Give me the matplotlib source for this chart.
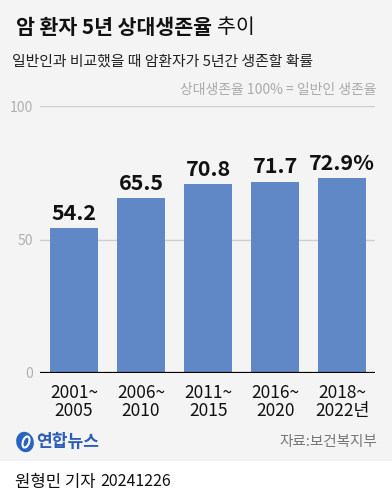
import matplotlib
matplotlib.use("Agg")
import matplotlib.pyplot as plt
from matplotlib.patches import Rectangle, Ellipse

plt.rcParams['font.family'] = ['Noto Sans CJK KR', 'DejaVu Sans']

periods = ["2001~\n2005", "2006~\n2010", "2011~\n2015", "2016~\n2020", "2018~\n2022년"]
values = [54.2, 65.5, 70.8, 71.7, 72.9]
value_labels = ["54.2", "65.5", "70.8", "71.7", "72.9%"]
yticks = [0, 50, 100]

W, H = 392, 500
fig = plt.figure(figsize=(W / 100, H / 100), dpi=100)
fig.patch.set_facecolor("white")

def fx(px):
    return px / W

def fy(py):
    return 1 - py / H

# gray background panel
fig.patches.append(Rectangle((0, fy(461)), 1, 1 - fy(461), transform=fig.transFigure,
                             facecolor="#f4f4f4", edgecolor="none", zorder=-10))

ax = fig.add_axes([fx(40), fy(373), fx(375) - fx(40), fy(106) - fy(373)])
ax.set_facecolor("none")
x = list(range(len(values)))
ax.bar(x, values, width=0.716, color="#6088c6", zorder=3)
ax.set_ylim(0, 100)
ax.set_xlim(-0.507, 4.49)
for s in ax.spines.values():
    s.set_visible(False)
ax.axhline(0, color="black", lw=1.6, zorder=4)
for t in yticks[1:]:
    ax.axhline(t, color="#cfcfcf", lw=1.0, zorder=1)
ax.set_yticks(yticks)
ax.set_yticklabels([str(t) for t in yticks], color="#b0b0b0", fontsize=10)
ax.tick_params(axis="y", length=0, pad=5)
ax.set_xticks(x)
ax.set_xticklabels(periods, fontsize=12.5, color="#111111", linespacing=1.0,
                   fontweight="light")
ax.tick_params(axis="x", length=0, pad=8)

for xi, v, lab in zip(x, values, value_labels):
    ax.annotate(lab, (xi, v), xytext=(0, 3), textcoords="offset points",
                ha="center", va="bottom", fontsize=15.5, fontweight="bold", color="#111111")

# title
t1 = fig.text(fx(16), fy(27), "암 환자 5년 상대생존율", fontsize=14.8, fontweight="heavy",
              color="#111111", va="center", ha="left")
fig.canvas.draw()
bb = t1.get_window_extent()
fig.text(bb.x1 / W + fx(5), fy(27), "추이", fontsize=14.8, fontweight="light",
         color="#111111", va="center", ha="left")

fig.text(fx(12), fy(62), "일반인과 비교했을 때 암환자가 5년간 생존할 확률", fontsize=10.7,
         color="#222222", va="center", ha="left")
fig.text(fx(376), fy(90), "상대생존율 100% = 일반인 생존율", fontsize=10,
         color="#aaaaaa", va="center", ha="right")

# logo
lx, ly = 25, 442
fig.patches.append(Ellipse((fx(lx), fy(ly)), fx(18), 20 / H, angle=-20,
                           transform=fig.transFigure,
                           facecolor="#2a64c0", edgecolor="none"))
fig.patches.append(Ellipse((fx(lx + 1), fy(ly)), fx(6), 12 / H, angle=-30,
                           transform=fig.transFigure, facecolor="none",
                           edgecolor="white", lw=1.5))
fig.text(fx(36), fy(ly), "연합뉴스", fontsize=12.3, fontweight="heavy", color="#2a5cb8",
         va="center", ha="left")
fig.text(fx(377), fy(ly), "자료:보건복지부", fontsize=10.5, color="#777777",
         va="center", ha="right")

# byline
b1 = fig.text(fx(15), fy(482), "원형민 기자", fontsize=12, fontweight="medium",
              color="#111111", va="center", ha="left")
fig.canvas.draw()
bb2 = b1.get_window_extent()
fig.text(bb2.x1 / W + fx(5), fy(482), "20241226", fontsize=11.5, color="#111111",
         va="center", ha="left")

fig.savefig("out.png", dpi=100, facecolor=fig.get_facecolor())
